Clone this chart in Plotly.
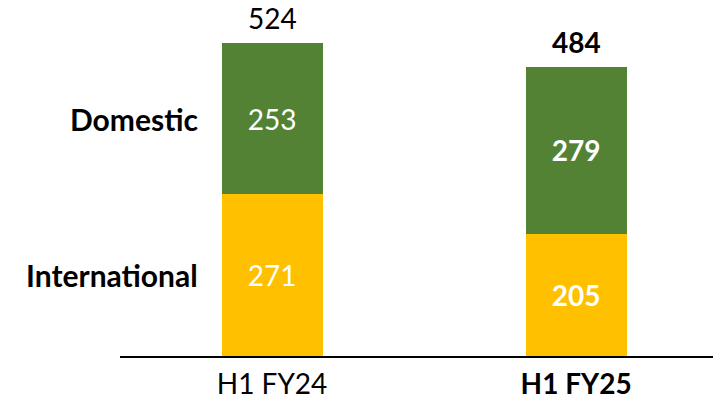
import plotly.graph_objects as go

categories = ["H1 FY24", "H1 FY25"]
tick_labels = ["H1 FY24", "<b>H1 FY25</b>"]
international = [271, 205]
domestic = [253, 279]
totals = [524, 484]
bold = [False, True]

GREEN = "#548235"
YELLOW = "#FFC000"
FONT = "Lato"
SIZE = 28

def fmt(v, b):
    return f"<b>{v}</b>" if b else str(v)

xs = list(range(len(categories)))

fig = go.Figure()
fig.add_trace(go.Bar(
    x=xs, y=international, marker_color=YELLOW, width=0.332,
    marker_line_width=0,
    text=[fmt(v, b) for v, b in zip(international, bold)],
    textposition="inside", insidetextanchor="middle",
    textfont=dict(color="white", size=SIZE, family=FONT),
))
fig.add_trace(go.Bar(
    x=xs, y=domestic, marker_color=GREEN, width=0.332,
    marker_line_width=0,
    text=[fmt(v, b) for v, b in zip(domestic, bold)],
    textposition="inside", insidetextanchor="middle",
    textfont=dict(color="white", size=SIZE, family=FONT),
))

# totals above bars
for x, t, b in zip(xs, totals, bold):
    fig.add_annotation(x=x, y=t, text=fmt(t, b), showarrow=False,
                       yanchor="bottom", yshift=6,
                       font=dict(color="black", size=SIZE, family=FONT))

# series labels on the left of the first bar
fig.add_annotation(x=-0.237, y=international[0] + domestic[0] / 2, text="<b>Domestic</b>",
                   showarrow=False, xanchor="right",
                   font=dict(color="black", size=30, family=FONT))
fig.add_annotation(x=-0.237, y=international[0] / 2, text="<b>International</b>",
                   showarrow=False, xanchor="right",
                   font=dict(color="black", size=30, family=FONT))

fig.update_layout(
    barmode="stack",
    width=713, height=402,
    margin=dict(l=120, r=0, t=0, b=46),
    showlegend=False,
    hovermode=False,
    plot_bgcolor="white", paper_bgcolor="white",
    xaxis=dict(range=[-0.5, 1.45], tickvals=xs, ticktext=tick_labels,
               showgrid=False, zeroline=False, showline=True,
               linecolor="black", linewidth=2, ticks="",
               ticklabelstandoff=2, automargin=False,
               tickfont=dict(color="black", size=SIZE, family=FONT)),
    yaxis=dict(range=[0, 596], visible=False),
)

fig.write_html("out.html", config={"displayModeBar": False},
               post_script="document.body.style.margin='0';")
